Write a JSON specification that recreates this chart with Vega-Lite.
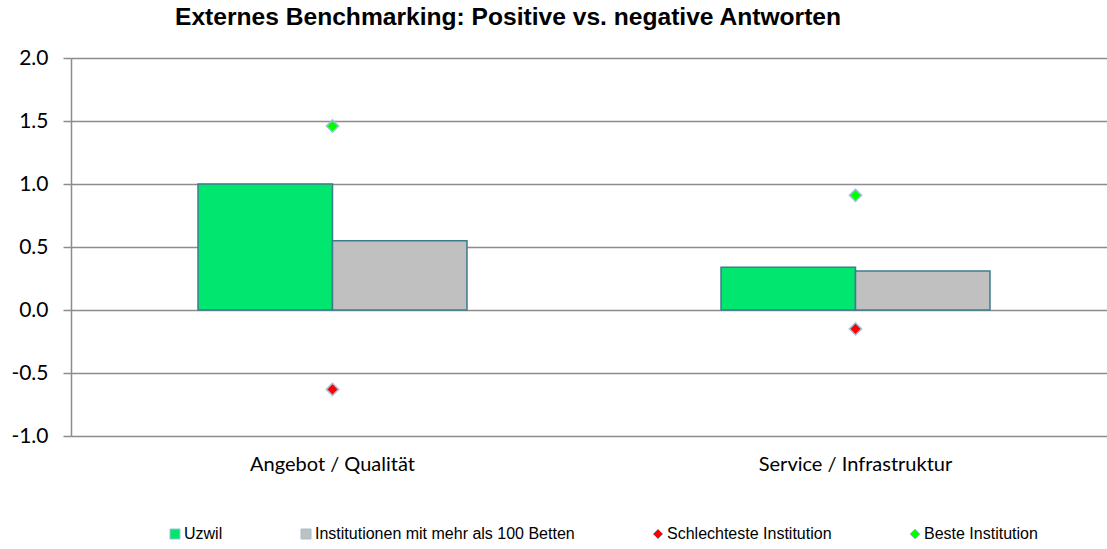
{
  "$schema": "https://vega.github.io/schema/vega-lite/v6.json",
  "autosize": {"type": "none"},
  "padding": {"left": 71, "top": 58, "right": 0, "bottom": 113},
  "width": 1036,
  "height": 378,
  "background": "white",
  "title": {
    "text": "Externes Benchmarking: Positive vs. negative Antworten",
    "font": "Liberation Sans",
    "fontSize": 24.6,
    "fontWeight": "bold",
    "color": "#000000",
    "anchor": "start",
    "frame": "group",
    "dx": 104,
    "offset": 16
  },
  "data": {
    "values": [
      {"kategorie": "Angebot / Qualität", "serie": "Uzwil", "wert": 1.0},
      {"kategorie": "Angebot / Qualität", "serie": "Institutionen mit mehr als 100 Betten", "wert": 0.55},
      {"kategorie": "Angebot / Qualität", "serie": "Schlechteste Institution", "wert": -0.63},
      {"kategorie": "Angebot / Qualität", "serie": "Beste Institution", "wert": 1.46},
      {"kategorie": "Service / Infrastruktur", "serie": "Uzwil", "wert": 0.34},
      {"kategorie": "Service / Infrastruktur", "serie": "Institutionen mit mehr als 100 Betten", "wert": 0.31},
      {"kategorie": "Service / Infrastruktur", "serie": "Schlechteste Institution", "wert": -0.15},
      {"kategorie": "Service / Infrastruktur", "serie": "Beste Institution", "wert": 0.91}
    ]
  },
  "encoding": {
    "x": {
      "field": "kategorie",
      "type": "nominal",
      "sort": null,
      "title": null,
      "scale": {"range": [0, 1046], "paddingInner": 0.4857, "paddingOuter": 0.24285},
      "axis": {
        "domain": false,
        "ticks": false,
        "grid": false,
        "labelAngle": 0,
        "labelLimit": 500,
        "labelFont": "Lato",
        "labelFontSize": 20,
        "labelColor": "#000000",
        "labelPadding": 18
      }
    },
    "y": {
      "field": "wert",
      "type": "quantitative",
      "title": null,
      "scale": {"domain": [-1, 2], "nice": false, "zero": false},
      "axis": {
        "values": [-1, -0.5, 0, 0.5, 1, 1.5, 2],
        "labelExpr": "datum.value < 0 ? '-' + format(-datum.value, '.1f') : format(datum.value, '.1f')",
        "domainColor": "#8c8c8c",
        "domainWidth": 1.5,
        "tickColor": "#8c8c8c",
        "tickWidth": 1.5,
        "tickSize": 8,
        "gridColor": "#8c8c8c",
        "gridWidth": 1.5,
        "gridOpacity": 1,
        "labelFont": "Lato",
        "labelFontSize": 21,
        "labelColor": "#000000",
        "labelPadding": 15
      }
    },
    "color": {
      "field": "serie",
      "type": "nominal",
      "title": null,
      "scale": {
        "domain": ["Uzwil", "Institutionen mit mehr als 100 Betten", "Schlechteste Institution", "Beste Institution"],
        "range": ["#00E66E", "#C0C0C0", "#FF0000", "#00FF00"]
      },
      "legend": {
        "orient": "none",
        "legendX": 96,
        "legendY": 468,
        "direction": "horizontal",
        "columns": 4,
        "columnPadding": 75,
        "labelFont": "Liberation Sans",
        "labelFontSize": 16,
        "labelLimit": 500,
        "labelColor": "#000000",
        "symbolSize": 100,
        "symbolStrokeColor": "#4a8a9a",
        "symbolStrokeWidth": 1,
        "symbolOpacity": 1,
        "labelOffset": 1
      }
    }
  },
  "layer": [
    {
      "transform": [{"filter": {"field": "serie", "oneOf": ["Uzwil", "Institutionen mit mehr als 100 Betten"]}}],
      "mark": {"type": "bar", "stroke": "#3C7D8C", "strokeWidth": 1.5},
      "encoding": {
        "xOffset": {
          "field": "serie",
          "type": "nominal",
          "sort": null,
          "scale": {"domain": ["Uzwil", "Institutionen mit mehr als 100 Betten"], "paddingInner": 0, "paddingOuter": 0}
        }
      }
    },
    {
      "transform": [{"filter": {"field": "serie", "oneOf": ["Schlechteste Institution", "Beste Institution"]}}],
      "mark": {"type": "point", "filled": true, "opacity": 1, "size": 150, "stroke": "#9DC3D6", "strokeWidth": 1.5},
      "encoding": {
        "shape": {
          "field": "serie",
          "type": "nominal",
          "title": null,
          "scale": {
            "domain": ["Uzwil", "Institutionen mit mehr als 100 Betten", "Schlechteste Institution", "Beste Institution"],
            "range": ["square", "square", "diamond", "diamond"]
          }
        }
      }
    }
  ],
  "config": {
    "view": {"stroke": null}
  }
}
